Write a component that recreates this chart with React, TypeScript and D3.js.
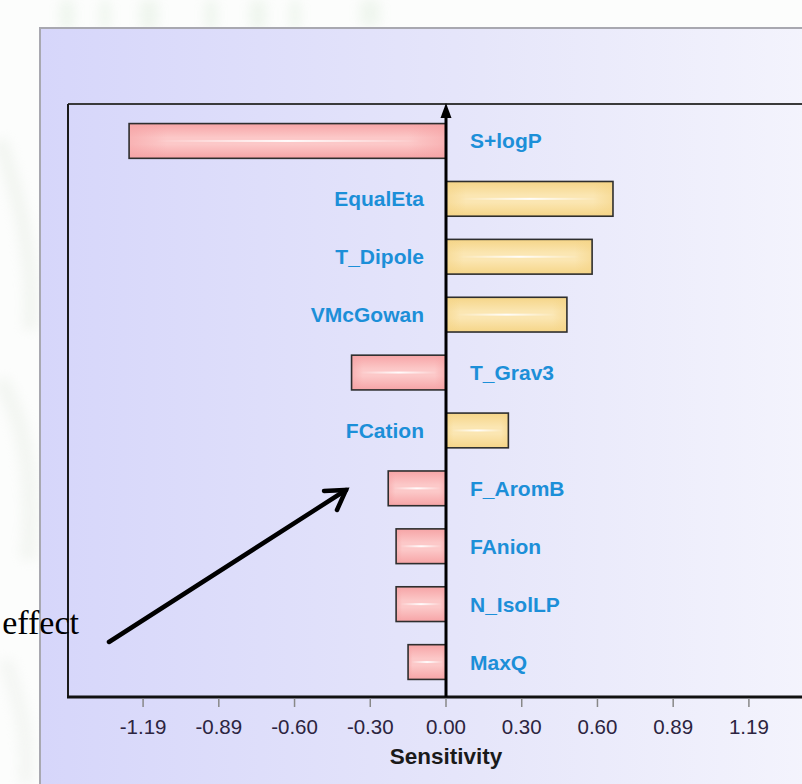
import React, { useEffect, useRef } from "react";
import * as d3 from "d3";

// descriptors, top to bottom
const names = ["S+logP", "EqualEta", "T_Dipole", "VMcGowan", "T_Grav3", "FCation", "F_AromB", "FAnion", "N_IsolLP", "MaxQ"];
const sensitivity = [-1.245, 0.656, 0.574, 0.475, -0.371, 0.245, -0.227, -0.196, -0.196, -0.149];
const tickValues = [-1.19, -0.8925, -0.595, -0.2975, 0, 0.2975, 0.595, 0.8925, 1.19];
const tickLabels = ["-1.19", "-0.89", "-0.60", "-0.30", "0.00", "0.30", "0.60", "0.89", "1.19"];

const W = 802;
const H = 784;

const App = () => {
  const ref = useRef<SVGSVGElement>(null);

  useEffect(() => {
    const svg = d3.select(ref.current);
    svg.selectAll("*").remove();

    const defs = svg.append("defs");

    // page background with faint leaves
    const blur = defs.append("filter").attr("id", "blur").attr("x", "-50%").attr("y", "-50%").attr("width", "200%").attr("height", "200%");
    blur.append("feGaussianBlur").attr("stdDeviation", 6);

    const panelGrad = defs.append("linearGradient").attr("id", "panelGrad").attr("x1", 0).attr("x2", 1).attr("y1", 0).attr("y2", 0);
    panelGrad.append("stop").attr("offset", "0%").attr("stop-color", "#d6d6fa");
    panelGrad.append("stop").attr("offset", "55%").attr("stop-color", "#e6e6fa");
    panelGrad.append("stop").attr("offset", "100%").attr("stop-color", "#f5f5fd");

    const mkBarGrad = (id, edge, mid) => {
      const gr = defs.append("linearGradient").attr("id", id).attr("x1", 0).attr("x2", 0).attr("y1", 0).attr("y2", 1);
      gr.append("stop").attr("offset", "0%").attr("stop-color", edge);
      gr.append("stop").attr("offset", "40%").attr("stop-color", mid);
      gr.append("stop").attr("offset", "60%").attr("stop-color", mid);
      gr.append("stop").attr("offset", "100%").attr("stop-color", edge);
      const gh = defs.append("linearGradient").attr("id", id + "H").attr("x1", 0).attr("x2", 1).attr("y1", 0).attr("y2", 0);
      gh.append("stop").attr("offset", "0%").attr("stop-color", edge).attr("stop-opacity", 0.6);
      gh.append("stop").attr("offset", "12%").attr("stop-color", edge).attr("stop-opacity", 0);
      gh.append("stop").attr("offset", "88%").attr("stop-color", edge).attr("stop-opacity", 0);
      gh.append("stop").attr("offset", "100%").attr("stop-color", edge).attr("stop-opacity", 0.6);
    };
    mkBarGrad("neg", "#f6a4a6", "#fcc8c8");
    mkBarGrad("pos", "#f5d588", "#fbe6b2");

    const streak = defs.append("linearGradient").attr("id", "streak").attr("x1", 0).attr("x2", 1).attr("y1", 0).attr("y2", 0);
    streak.append("stop").attr("offset", "0%").attr("stop-color", "#fff").attr("stop-opacity", 0);
    streak.append("stop").attr("offset", "50%").attr("stop-color", "#fff").attr("stop-opacity", 0.95);
    streak.append("stop").attr("offset", "100%").attr("stop-color", "#fff").attr("stop-opacity", 0);

    svg.append("rect").attr("width", W).attr("height", H).attr("fill", "#fcfdfc");
    const leaves = svg.append("g").attr("filter", "url(#blur)").attr("opacity", 0.35);
    [[60, 0, 14, 30], [100, 0, 10, 30], [140, 0, 18, 30], [205, 0, 12, 30], [250, 0, 16, 30], [290, 0, 10, 30], [360, 0, 20, 26]].forEach(([x, y, w, h]) => {
      leaves.append("rect").attr("x", x).attr("y", y).attr("width", w).attr("height", h).attr("fill", "#d6e8d4");
    });
    leaves.append("path").attr("d", "M0,140 C20,200 35,260 30,330").attr("stroke", "#dfe6dc").attr("stroke-width", 14).attr("fill", "none");
    leaves.append("path").attr("d", "M0,380 C25,420 35,480 28,560").attr("stroke", "#e2e8df").attr("stroke-width", 16).attr("fill", "none");
    leaves.append("path").attr("d", "M5,660 C20,700 30,740 25,784").attr("stroke", "#e4e8e2").attr("stroke-width", 14).attr("fill", "none");

    // panel
    svg.append("rect").attr("x", 40).attr("y", 28).attr("width", W).attr("height", H)
      .attr("fill", "url(#panelGrad)").attr("stroke", "#a8a8b0").attr("stroke-width", 2);

    const x = d3.scaleLinear().domain([-1.485, 1.485]).range([68, 824]);
    const y = d3.scaleBand().domain(names).range([112, 691]).paddingInner(0.4).paddingOuter(0.2);
    const frameTop = 104;
    const frameBottom = 697;

    // frame
    svg.append("line").attr("x1", 68).attr("x2", W).attr("y1", frameTop).attr("y2", frameTop).attr("stroke", "#3a3a3a").attr("stroke-width", 2);
    svg.append("line").attr("x1", 68).attr("x2", 68).attr("y1", frameTop).attr("y2", frameBottom).attr("stroke", "#1a1a1a").attr("stroke-width", 2);

    // bars
    const bars = svg.append("g");
    names.forEach((n, i) => {
      const v = sensitivity[i];
      const id = v < 0 ? "neg" : "pos";
      const x0 = x(Math.min(0, v));
      const w = Math.abs(x(v) - x(0));
      const by = y(n)!;
      const bh = y.bandwidth();
      bars.append("rect").attr("x", x0).attr("y", by).attr("width", w).attr("height", bh)
        .attr("fill", `url(#${id})`);
      bars.append("rect").attr("x", x0).attr("y", by).attr("width", w).attr("height", bh)
        .attr("fill", `url(#${id}H)`);
      bars.append("rect").attr("x", x0 + w * 0.08).attr("y", by + bh / 2 - 1).attr("width", w * 0.84).attr("height", 2)
        .attr("fill", "url(#streak)");
      bars.append("rect").attr("x", x0).attr("y", by).attr("width", w).attr("height", bh)
        .attr("fill", "none").attr("stroke", "#2e2e2e").attr("stroke-width", 1.6);

      bars.append("text")
        .attr("x", v < 0 ? x(0) + 24 : x(0) - 22)
        .attr("y", by + bh / 2)
        .attr("text-anchor", v < 0 ? "start" : "end")
        .attr("dominant-baseline", "central")
        .attr("font-family", "Liberation Sans, Arial, sans-serif")
        .attr("font-weight", "bold")
        .attr("font-size", "21px")
        .attr("fill", "#1c8fd8")
        .text(n);
    });

    // bottom axis
    svg.append("line").attr("x1", 67).attr("x2", W).attr("y1", frameBottom).attr("y2", frameBottom).attr("stroke", "#111").attr("stroke-width", 3);
    const ax = svg.append("g");
    tickValues.forEach((t, i) => {
      ax.append("line").attr("x1", x(t)).attr("x2", x(t)).attr("y1", frameBottom + 1.5).attr("y2", frameBottom + 10)
        .attr("stroke", "#888").attr("stroke-width", 1.5);
      ax.append("text").attr("x", x(t)).attr("y", 726).attr("text-anchor", "middle").attr("dominant-baseline", "central")
        .attr("font-family", "Liberation Sans, Arial, sans-serif").attr("font-size", "20.5px").attr("fill", "#2c2440")
        .text(tickLabels[i]);
    });
    svg.append("text").attr("x", x(0)).attr("y", 756).attr("text-anchor", "middle").attr("dominant-baseline", "central")
      .attr("font-family", "Liberation Sans, Arial, sans-serif").attr("font-weight", "bold").attr("font-size", "22.5px").attr("fill", "#1a1a1a")
      .text("Sensitivity");

    // zero axis with arrow
    svg.append("line").attr("x1", x(0)).attr("x2", x(0)).attr("y1", frameTop + 10).attr("y2", frameBottom).attr("stroke", "#000").attr("stroke-width", 3);
    svg.append("path").attr("d", `M${x(0)},${frameTop - 1} L${x(0) - 5.5},${frameTop + 14} L${x(0) + 5.5},${frameTop + 14} Z`).attr("fill", "#000");

    // annotation arrow
    const ann = svg.append("g").attr("stroke", "#000").attr("stroke-width", 4.5).attr("fill", "none").attr("stroke-linecap", "round");
    ann.append("line").attr("x1", 109).attr("y1", 642).attr("x2", 346).attr("y2", 490);
    ann.append("path").attr("d", "M324,491 L346,490 L337,510").attr("stroke-linejoin", "miter");

    svg.append("text").attr("x", 79).attr("y", 634).attr("text-anchor", "end")
      .attr("font-family", "Liberation Serif, Times New Roman, serif").attr("font-size", "34px").attr("fill", "#000")
      .text("effect");
  }, []);

  return <svg ref={ref} width={W} height={H} style={{ position: "absolute", left: 0, top: 0, display: "block" }} />;
};

export default App;
